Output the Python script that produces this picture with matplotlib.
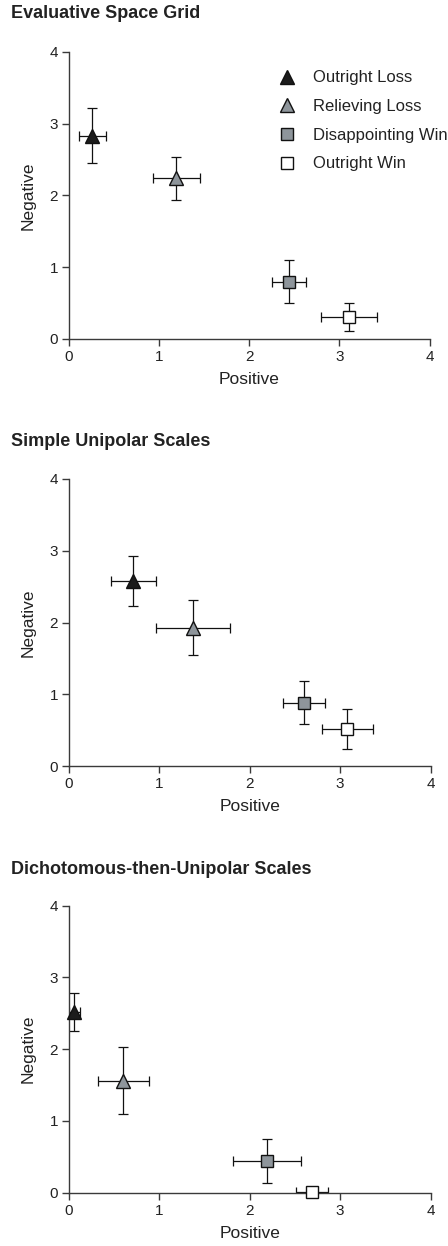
import matplotlib
matplotlib.use("Agg")
import matplotlib.pyplot as plt
from matplotlib.lines import Line2D

plt.rcParams['font.family'] = ['Liberation Sans', 'DejaVu Sans']

# Conditions, drawn in this order in every panel
conditions = ['Outright Loss', 'Relieving Loss', 'Disappointing Win', 'Outright Win']
markers = ['^', '^', 's', 's']
face_colors = ['#1c1c1c', '#8e959b', '#8e959b', '#ffffff']
marker_sizes = [10.5, 10.5, 8.5, 8.5]

panel_titles = ['Evaluative Space Grid',
                'Simple Unipolar Scales',
                'Dichotomous-then-Unipolar Scales']

# Positive (x) and Negative (y) means with error half-widths, one list per panel
pos_means = [[0.26, 1.19, 2.44, 3.11],
             [0.71, 1.37, 2.60, 3.08],
             [0.06, 0.60, 2.19, 2.69]]
pos_err = [[0.15, 0.26, 0.19, 0.31],
           [0.25, 0.41, 0.23, 0.285],
           [0.065, 0.28, 0.375, 0.175]]
neg_means = [[2.83, 2.24, 0.80, 0.30],
             [2.58, 1.93, 0.88, 0.51],
             [2.52, 1.56, 0.44, 0.01]]
neg_err = [[0.38, 0.30, 0.30, 0.195],
           [0.35, 0.38, 0.30, 0.28],
           [0.27, 0.47, 0.31, 0.0]]

ticks = [0, 1, 2, 3, 4]

W, H = 448, 1246
fig = plt.figure(figsize=(W / 100, H / 100), dpi=100)

# axes boxes in pixels: (left, top of y=4, right, bottom y=0), title centre y
boxes = [(69, 51.7, 429.5, 339.0, 14),
         (69, 479.0, 430.5, 766.0, 441.5),
         (69, 905.7, 430.5, 1192.7, 869)]

spine_col = '#3a3a3a'

for p, (l, t, r, b, ty) in enumerate(boxes):
    ax = fig.add_axes([l / W, 1 - b / H, (r - l) / W, (b - t) / H])
    for i in range(len(conditions)):
        ax.errorbar(pos_means[p][i], neg_means[p][i],
                    xerr=pos_err[p][i], yerr=neg_err[p][i],
                    fmt='none', ecolor='#111111', elinewidth=0.9,
                    capsize=3.6, capthick=0.9, zorder=2)
        ax.plot(pos_means[p][i], neg_means[p][i], linestyle='none',
                marker=markers[i], markersize=marker_sizes[i],
                markerfacecolor=face_colors[i], markeredgecolor='#111111',
                markeredgewidth=1.0, zorder=3, clip_on=False)

    ax.set_xlim(0, 4)
    ax.set_ylim(0, 4)
    ax.set_xticks(ticks)
    ax.set_yticks(ticks)
    for side in ['top', 'right']:
        ax.spines[side].set_visible(False)
    for side in ['left', 'bottom']:
        ax.spines[side].set_color(spine_col)
        ax.spines[side].set_linewidth(1.0)
    ax.tick_params(direction='out', length=5, width=1.0, color=spine_col,
                   labelsize=11, labelcolor='#222222', pad=3)
    ax.set_xlabel('Positive', fontsize=12.5, color='#222222', labelpad=6)
    ax.set_ylabel('Negative', fontsize=12.5, color='#222222', labelpad=10)

    fig.text(11 / W, 1 - ty / H, panel_titles[p], fontsize=13, fontweight='bold',
             color='#222222', ha='left', va='center')

    if p == 0:
        handles = [Line2D([], [], linestyle='none', marker=markers[i],
                          markersize=marker_sizes[i],
                          markerfacecolor=face_colors[i],
                          markeredgecolor='#111111', markeredgewidth=1.0)
                   for i in range(len(conditions))]
        ax.legend(handles, conditions, loc='upper left',
                  bbox_to_anchor=(0.581, 0.935), frameon=False,
                  fontsize=12, borderpad=0, borderaxespad=0,
                  handlelength=1.0, handletextpad=1.1, labelspacing=0.82,
                  labelcolor='#222222')

fig.savefig('out.png', dpi=100)
